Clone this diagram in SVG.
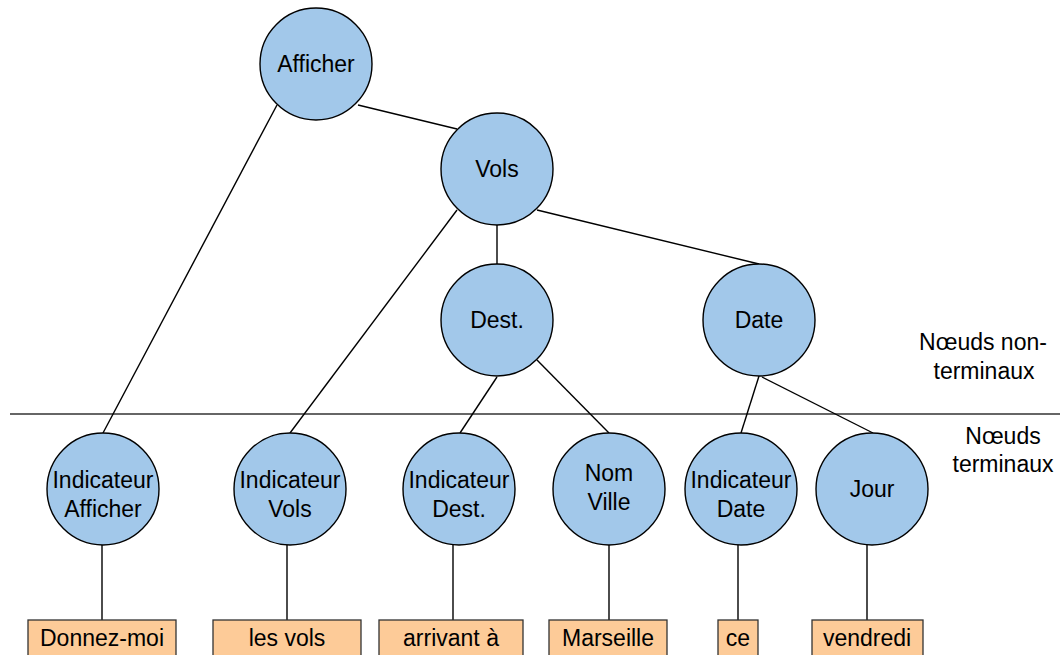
<svg xmlns="http://www.w3.org/2000/svg" width="1060" height="655" viewBox="0 0 1060 655">
<style>
.n circle{fill:#A2C8EA;stroke:#000;stroke-width:1.4}
.b rect{fill:#FDCB98;stroke:#333;stroke-width:1.3}
text{font-family:"Liberation Sans",Arial,sans-serif;font-size:23px;fill:#000;text-anchor:middle}
#connectors line{stroke:#000;stroke-width:1.4}
</style>
<rect width="1060" height="655" fill="#fff"/>
<g id="connectors">
<line x1="10" y1="414" x2="1060" y2="414" style="stroke:#333"/>
<line x1="277" y1="105" x2="103" y2="433"/>
<line x1="358" y1="105" x2="457" y2="129"/>
<line x1="457" y1="210" x2="290" y2="433"/>
<line x1="497" y1="225" x2="497" y2="264"/>
<line x1="537" y1="210" x2="759" y2="264"/>
<line x1="497" y1="377" x2="460" y2="433"/>
<line x1="537" y1="360" x2="609" y2="433"/>
<line x1="759" y1="376" x2="741" y2="433"/>
<line x1="762" y1="377" x2="873" y2="433"/>
<line x1="102" y1="545" x2="102" y2="620"/>
<line x1="287" y1="545" x2="287" y2="620"/>
<line x1="453" y1="545" x2="453" y2="620"/>
<line x1="609" y1="545" x2="609" y2="620"/>
<line x1="738" y1="545" x2="738" y2="620"/>
<line x1="867" y1="545" x2="867" y2="620"/>
</g>
<g id="n-afficher" class="n"><circle cx="316" cy="64" r="56"/><text x="316" y="72">Afficher</text></g>
<g id="n-vols" class="n"><circle cx="497" cy="169" r="56"/><text x="497" y="177">Vols</text></g>
<g id="n-dest" class="n"><circle cx="497" cy="320" r="56"/><text x="497" y="328">Dest.</text></g>
<g id="n-date" class="n"><circle cx="759" cy="320" r="56"/><text x="759" y="328">Date</text></g>
<g id="n-ind-afficher" class="n"><circle cx="103" cy="489" r="56"/><text x="103" y="488">Indicateur</text><text x="103" y="517">Afficher</text></g>
<g id="n-ind-vols" class="n"><circle cx="290" cy="489" r="56"/><text x="290" y="488">Indicateur</text><text x="290" y="517">Vols</text></g>
<g id="n-ind-dest" class="n"><circle cx="459" cy="489" r="56"/><text x="459" y="488">Indicateur</text><text x="459" y="517">Dest.</text></g>
<g id="n-nom-ville" class="n"><circle cx="609" cy="489" r="56"/><text x="609" y="481">Nom</text><text x="609" y="510">Ville</text></g>
<g id="n-ind-date" class="n"><circle cx="741" cy="489" r="56"/><text x="741" y="488">Indicateur</text><text x="741" y="517">Date</text></g>
<g id="n-jour" class="n"><circle cx="872" cy="489" r="56"/><text x="872" y="497">Jour</text></g>
<g id="b-donnez" class="b"><rect x="28" y="620" width="148" height="50"/><text x="102" y="646">Donnez-moi</text></g>
<g id="b-lesvols" class="b"><rect x="213" y="620" width="148" height="50"/><text x="287" y="646">les vols</text></g>
<g id="b-arrivant" class="b"><rect x="379" y="620" width="144" height="50"/><text x="451" y="646">arrivant à</text></g>
<g id="b-marseille" class="b"><rect x="549" y="620" width="118" height="50"/><text x="608" y="646">Marseille</text></g>
<g id="b-ce" class="b"><rect x="718" y="620" width="40" height="50"/><text x="738" y="646">ce</text></g>
<g id="b-vendredi" class="b"><rect x="812" y="620" width="111" height="50"/><text x="867" y="646">vendredi</text></g>
<g id="labels">
<text x="983" y="350">Nœuds non-</text>
<text x="984" y="379">terminaux</text>
<text x="1003" y="444">Nœuds</text>
<text x="1003" y="472">terminaux</text>
</g>
</svg>
